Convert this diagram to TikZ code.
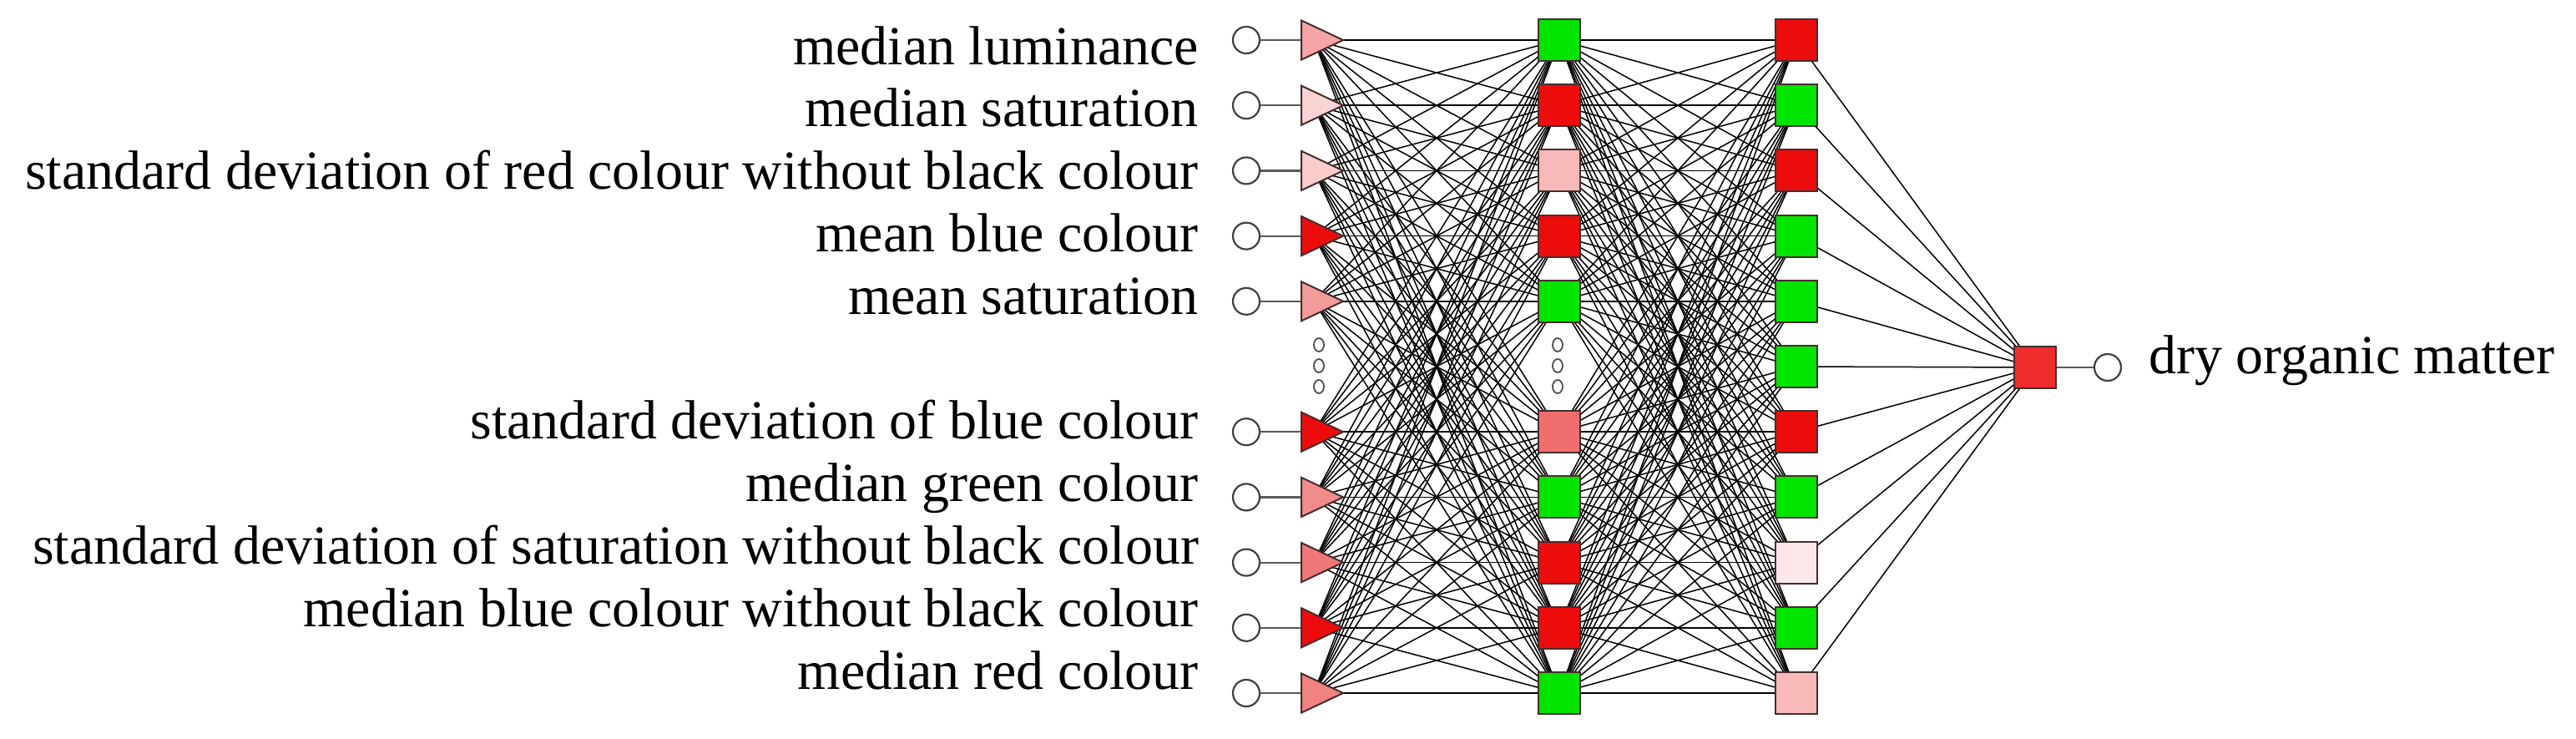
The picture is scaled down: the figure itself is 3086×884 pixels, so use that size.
\documentclass[tikz,border=0pt]{standalone}
\usepackage{fontspec}
\setmainfont{Liberation Serif}
\usetikzlibrary{shapes.geometric}
\pgfdeclarelayer{bg}
\pgfsetlayers{bg,main}
\definecolor{nred}{RGB}{236,12,12}
\definecolor{ngreen}{RGB}{0,228,0}
\definecolor{pinkA}{RGB}{245,165,165}
\definecolor{pinkB}{RGB}{250,212,212}
\definecolor{pinkC}{RGB}{250,205,205}
\definecolor{pinkD}{RGB}{243,155,155}
\definecolor{salA}{RGB}{240,140,140}
\definecolor{salB}{RGB}{240,120,120}
\definecolor{salC}{RGB}{240,130,130}
\definecolor{midpink}{RGB}{248,185,185}
\definecolor{midsal}{RGB}{240,110,110}
\definecolor{palest}{RGB}{252,232,232}
\definecolor{outred}{RGB}{240,45,45}
\definecolor{bord}{RGB}{70,45,45}
\begin{document}
\begin{tikzpicture}[x=1pt,y=-1pt,
  incirc/.style={circle,draw=black!75,line width=2.2pt,fill=white,minimum size=32pt,inner sep=0pt},
  tri/.style={isosceles triangle,isosceles triangle stretches,shape border rotate=0,draw=bord,line width=2pt,minimum width=47pt,minimum height=50pt,inner sep=0pt},
  sq/.style={rectangle,draw=bord,line width=2pt,minimum size=50pt,inner sep=0pt},
  dotc/.style={ellipse,draw=black!70,line width=1.8pt,fill=white,minimum width=12pt,minimum height=16pt,inner sep=0pt},
  lab/.style={anchor=base east,inner sep=0pt,font=\fontsize{66}{72}\selectfont},
  conn/.style={draw=black,line width=1.5pt},
  feed/.style={draw=black!65,line width=2.2pt}]
\useasboundingbox (0,0) rectangle (3086,884);
% input rows
\foreach \k/\lab/\tc in {0/median luminance/pinkA,1/median saturation/pinkB,
  2/standard deviation of red colour without black colour/pinkC,3/mean blue colour/nred,
  4/mean saturation/pinkD,6/standard deviation of blue colour/nred,7/median green colour/salA,
  8/standard deviation of saturation without black colour/salB,
  9/median blue colour without black colour/nred,10/median red colour/salC}{
  \node[incirc] (c\k) at (1493,48+78.2*\k) {};
  \node[tri,fill=\tc] (t\k) at (1574,48+78.2*\k) {};
  \node[lab] (l\k) at (1436,77+74.8*\k) {\lab};
}
% first hidden layer
\foreach \k/\hc in {0/ngreen,1/nred,2/midpink,3/nred,4/ngreen,6/midsal,7/ngreen,8/nred,9/nred,10/ngreen}{
  \node[sq,fill=\hc] (h\k) at (1868,48+78.2*\k) {};
}
% second hidden layer
\foreach \k/\gc in {0/nred,1/ngreen,2/nred,3/ngreen,4/ngreen,5/ngreen,6/nred,7/ngreen,8/palest,9/ngreen,10/midpink}{
  \node[sq,fill=\gc] (g\k) at (2152,48+78.2*\k) {};
}
% dots
\node[dotc] (da1) at (1580,413) {};
\node[dotc] (da2) at (1580,438) {};
\node[dotc] (da3) at (1580,463) {};
\node[dotc] (db1) at (1866,413) {};
\node[dotc] (db2) at (1866,438) {};
\node[dotc] (db3) at (1866,463) {};
% output
\node[sq,fill=outred] (o) at (2438,440) {};
\node[incirc] (oc) at (2525,440) {};
\node[anchor=base west,inner sep=0pt,font=\fontsize{66}{72}\selectfont] (ol) at (2574,447) {dry organic matter};
\begin{pgfonlayer}{bg}
\foreach \a in {0,1,2,3,4,6,7,8,9,10}{
  \draw[feed] (c\a) -- (t\a);
  \foreach \b in {0,1,2,3,4,6,7,8,9,10}{\draw[conn] (t\a.center) -- (h\b.center);}
  \foreach \b in {0,...,10}{\draw[conn] (h\a.center) -- (g\b.center);}
}
\foreach \b in {0,...,10}{\draw[conn] (g\b.center) -- (o.center);}
\draw[feed] (o) -- (oc);
\end{pgfonlayer}
\end{tikzpicture}
\end{document}
